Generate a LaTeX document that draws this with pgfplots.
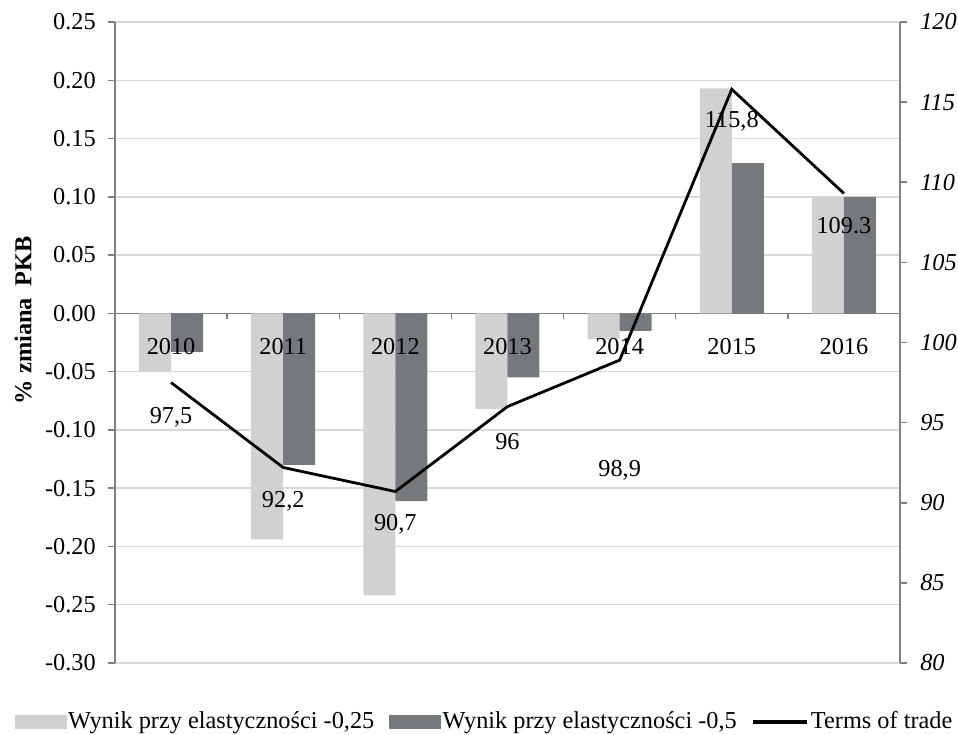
\documentclass[border=0pt]{standalone}
\usepackage{pgfplots}
\pgfplotsset{compat=1.18}
\usepackage{fontspec}
\setmainfont{Liberation Serif}
\definecolor{lightbar}{RGB}{208,210,210}
\definecolor{darkbar}{RGB}{118,121,124}
\definecolor{axisgray}{RGB}{128,128,128}
\definecolor{gridgray}{RGB}{217,217,217}
\pgfplotsset{/pgf/number format/assume math mode=true}
\newcommand{\fs}{\fontsize{24.3}{29}\selectfont}
\begin{document}
\fs
\begin{tikzpicture}[x=1pt,y=1pt]
\begin{axis}[
  at={(0,0)}, anchor=south west,
  width=785pt, height=641pt, scale only axis,
  xmin=-0.5, xmax=6.5,
  ymin=-0.30, ymax=0.25,
  ytick={-0.30,-0.25,-0.20,-0.15,-0.10,-0.05,0,0.05,0.10,0.15,0.20,0.25},
  yticklabel style={/pgf/number format/.cd, fixed, fixed zerofill, precision=2, /tikz/.cd, font=\fs, xshift=-4pt},
  axis y line*=left,
  axis x line=none,
  y axis line style={axisgray, line width=1.5pt},
  ytick style={axisgray, line width=1.5pt},
  tick align=outside,
  major tick length=7pt,
  ymajorgrids,
  grid style={gridgray, line width=1.5pt},
  extra y ticks={0},
  extra y tick labels={},
  extra y tick style={grid style={axisgray, line width=1.5pt}},
  ybar=0pt, bar width=32pt,
  clip=false,
]
\addplot[fill=lightbar, draw=none] coordinates {(0,-0.050)(1,-0.194)(2,-0.242)(3,-0.082)(4,-0.022)(5,0.193)(6,0.100)};
\addplot[fill=darkbar, draw=none] coordinates {(0,-0.033)(1,-0.130)(2,-0.161)(3,-0.055)(4,-0.015)(5,0.129)(6,0.100)};
\pgfplotsinvokeforeach{0.5,1.5,2.5,3.5,4.5,5.5}{
  \draw[axisgray, line width=1.5pt] (axis cs:#1,0) -- ([yshift=-6pt]axis cs:#1,0);
}
\node[anchor=north, yshift=-17pt] at (axis cs:0,0) {2010};
\node[anchor=north, yshift=-17pt] at (axis cs:1,0) {2011};
\node[anchor=north, yshift=-17pt] at (axis cs:2,0) {2012};
\node[anchor=north, yshift=-17pt] at (axis cs:3,0) {2013};
\node[anchor=north, yshift=-17pt] at (axis cs:4,0) {2014};
\node[anchor=north, yshift=-17pt] at (axis cs:5,0) {2015};
\node[anchor=north, yshift=-17pt] at (axis cs:6,0) {2016};
\node[rotate=90, font=\bfseries\fs] at ([xshift=-92pt]rel axis cs:0,0.535) {\% zmiana~ PKB};
\end{axis}
\begin{axis}[
  at={(0,0)}, anchor=south west,
  width=785pt, height=641pt, scale only axis,
  xmin=-0.5, xmax=6.5,
  ymin=80, ymax=120,
  ytick={80,85,...,120},
  yticklabel style={font=\itshape\fs, xshift=5pt},
  axis y line*=right,
  axis x line=none,
  y axis line style={axisgray, line width=1.5pt},
  ytick style={axisgray, line width=1.5pt},
  tick align=outside,
  major tick length=7pt,
  clip=false,
  legend columns=3,
  legend style={at={(0.4707,-0.092)}, anchor=center, draw=none, fill=none,
    font=\fs,
    nodes={inner sep=2pt},
    /tikz/every even column/.append style={column sep=13pt}},
]
\addlegendimage{legend image code/.code={\fill[lightbar] (0pt,-6.5pt) rectangle (51pt,6.5pt);}}
\addlegendentry{Wynik przy elastyczności -0,25}
\addlegendimage{legend image code/.code={\fill[darkbar] (0pt,-6.5pt) rectangle (51pt,6.5pt);}}
\addlegendentry{Wynik przy elastyczności -0,5}
\addplot[black, line width=2.8pt, mark=none,
  legend image code/.code={\draw[black, line width=3.2pt] (0pt,0pt) -- (54pt,0pt);}]
  coordinates {(0,97.5)(1,92.2)(2,90.7)(3,96)(4,98.9)(5,115.8)(6,109.3)};
\addlegendentry{Terms of trade}
\node[yshift=-35pt] at (axis cs:0,97.5) {97,5};
\node[yshift=-34pt] at (axis cs:1,92.2) {92,2};
\node[yshift=-33pt] at (axis cs:2,90.7) {90,7};
\node[yshift=-35pt] at (axis cs:3,96) {96};
\node[yshift=-110pt] at (axis cs:4,98.9) {98,9};
\node[yshift=-32pt] at (axis cs:5,115.8) {115,8};
\node[yshift=-32pt] at (axis cs:6,109.3) {109.3};
\end{axis}
\pgfresetboundingbox
\path[use as bounding box] (-115,-71) rectangle (843,663);
\end{tikzpicture}
\end{document}
